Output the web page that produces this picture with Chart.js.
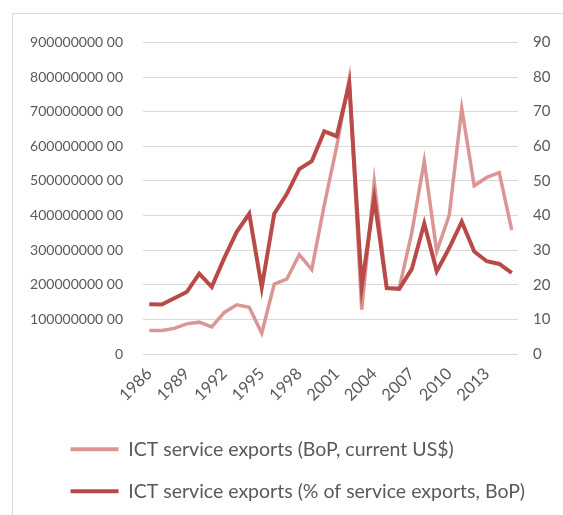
<!DOCTYPE html>
<html>
  <head>
    <meta charset="utf-8" />
    <title>ICT service exports</title>
    <script src="https://cdn.jsdelivr.net/npm/chart.js@4"></script>
    <style>
      body { margin: 0; background: #fff; }
      #frame {
        position: absolute;
        left: 12px;
        top: 13px;
        width: 551px;
        height: 502px;
        border-left: 1px solid #d9d9d9;
        border-top: 1px solid #d9d9d9;
      }
    </style>
  </head>
  <body>
    <div id="frame"><canvas id="myChart" width="550" height="501"></canvas></div>
    <script>
      const years = [
        1986, 1987, 1988, 1989, 1990, 1991, 1992, 1993, 1994, 1995,
        1996, 1997, 1998, 1999, 2000, 2001, 2002, 2003, 2004, 2005,
        2006, 2007, 2008, 2009, 2010, 2011, 2012, 2013, 2014, 2015,
      ];
      // current US$
      const exportsUsd = [
        68000000, 68000000, 74000000, 87000000, 92000000, 78000000, 120000000, 142000000, 135000000, 60000000,
        202000000, 216000000, 287000000, 244000000, 430000000, 600000000, 795000000, 128000000, 497000000, 191000000,
        190000000, 350000000, 557000000, 296000000, 401000000, 709000000, 486000000, 510000000, 524000000, 358000000,
      ];
      // % of service exports
      const exportsPct = [
        14.4, 14.3, 16.1, 17.9, 23.2, 19.4, 27.7, 35.3, 40.5, 19.2,
        40.5, 46.2, 53.4, 55.7, 64.3, 62.9, 78.1, 19.5, 45.0, 19.0,
        18.8, 24.5, 37.7, 23.9, 30.6, 38.2, 29.6, 26.8, 26.0, 23.4,
      ];
      const usdLabel = "ICT service exports (BoP, current US$)";
      const pctLabel = "ICT service exports (% of service exports, BoP)";

      const lightRed = "#d99694";
      const darkRed = "#b84a47";
      const grey = "#595959";
      const gridGrey = "#d9d9d9";

      // legend rows start a bit in from the left edge
      const legendShift = {
        id: "legendShift",
        beforeDraw(chart) {
          chart.legend.left = 35;
        },
      };

      const data = {
        labels: years,
        datasets: [
          {
            label: pctLabel,
            data: exportsPct,
            yAxisID: "y1",
            borderColor: darkRed,
            backgroundColor: darkRed,
            borderWidth: 4,
            pointRadius: 0,
            tension: 0,
          },
          {
            label: usdLabel,
            data: exportsUsd,
            yAxisID: "y",
            borderColor: lightRed,
            backgroundColor: lightRed,
            borderWidth: 3.5,
            pointRadius: 0,
            tension: 0,
          },
        ],
      };

      const config = {
        type: "line",
        data: data,
        plugins: [legendShift],
        options: {
          responsive: false,
          animation: false,
          layout: { padding: { top: 12, left: 0, right: 0, bottom: 4 } },
          plugins: {
            tooltip: { enabled: false },
            legend: {
              position: "bottom",
              align: "start",
              labels: {
                color: grey,
                font: { family: "Lato", size: 19.5 },
                boxWidth: 48,
                boxHeight: 4,
                padding: 22.5,
                sort: (a, b) => b.datasetIndex - a.datasetIndex,
                generateLabels: (chart) =>
                  Chart.defaults.plugins.legend.labels
                    .generateLabels(chart)
                    .map((l) => ({ ...l, lineWidth: 0, fillStyle: l.strokeStyle })),
              },
            },
          },
          scales: {
            x: {
              offset: true,
              grid: { display: false },
              border: { display: false },
              afterFit: (scale) => { scale.height = 63; },
              ticks: {
                autoSkip: false,
                maxRotation: 45,
                minRotation: 45,
                padding: 2,
                color: grey,
                font: { family: "Lato", size: 16.5 },
                callback: (v, i) => (i % 3 === 0 ? years[i] : ""),
              },
            },
            y: {
              position: "left",
              min: 0,
              max: 900000000,
              afterFit: (scale) => { scale.width = 130; },
              grid: { color: gridGrey, drawTicks: false },
              border: { display: false },
              ticks: {
                stepSize: 100000000,
                padding: 20,
                color: grey,
                font: { family: "Lato", size: 14 },
                callback: (v) => (v === 0 ? "0" : v.toFixed(2).replace(".", " ")),
              },
            },
            y1: {
              position: "right",
              min: 0,
              max: 90,
              afterFit: (scale) => { scale.width = 45; },
              grid: { display: false, drawTicks: false },
              border: { display: false },
              ticks: {
                stepSize: 10,
                padding: 15,
                color: grey,
                font: { family: "Lato", size: 15 },
              },
            },
          },
        },
      };

      const ctx = document.getElementById("myChart");
      const myChart = new Chart(ctx, config);
    </script>
  </body>
</html>
